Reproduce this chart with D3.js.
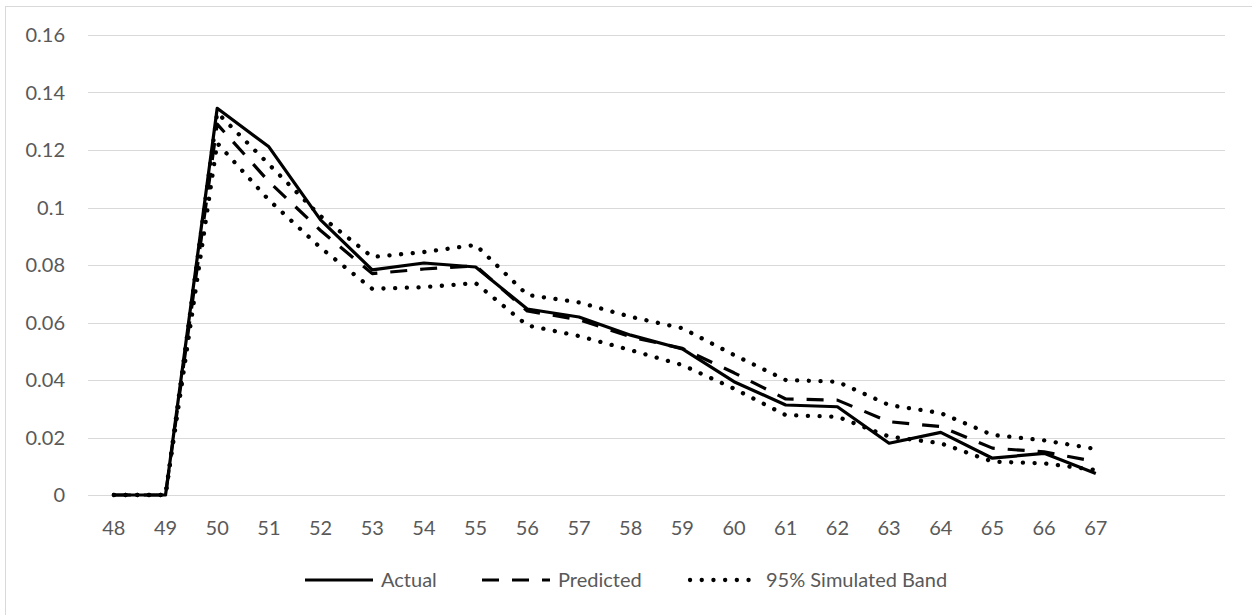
<!DOCTYPE html>
<html lang="en">

<head>
    <meta charset="UTF-8">
    <title>Actual vs Predicted</title>
    <script src="https://cdn.jsdelivr.net/npm/d3@7"></script>

    <style>
        body { margin: 0; background: #fff; }
        svg { display: block; }
        .grid line { stroke: #d9d9d9; stroke-width: 1; }
        .tick-label, .legend text {
            font-family: Lato, "Open Sans", sans-serif;
            font-size: 20px;
            fill: #595959;
        }
    </style>
</head>

<body>

    <svg width="1252" height="615"></svg>

    <script>

        // data (two trailing empty categories in the source sheet)
        var ages = ["48", "49", "50", "51", "52", "53", "54", "55", "56", "57",
                    "58", "59", "60", "61", "62", "63", "64", "65", "66", "67", "", ""];

        var actual    = [0, 0, 0.1345, 0.1211, 0.0957, 0.0783, 0.0807, 0.0793, 0.0647, 0.0619,
                         0.0556, 0.0508, 0.0394, 0.0313, 0.0307, 0.0180, 0.0218, 0.0128, 0.0145, 0.0075];
        var predicted = [0, 0, 0.1290, 0.1090, 0.0920, 0.0770, 0.0786, 0.0797, 0.0640, 0.0610,
                         0.0550, 0.0510, 0.0425, 0.0334, 0.0330, 0.0255, 0.0238, 0.0163, 0.0150, 0.0116];
        var bandUpper = [0, 0, 0.1330, 0.1150, 0.0970, 0.0828, 0.0845, 0.0870, 0.0696, 0.0670,
                         0.0620, 0.0580, 0.0487, 0.0400, 0.0394, 0.0313, 0.0285, 0.0209, 0.0190, 0.0160];
        var bandLower = [0, 0, 0.1224, 0.1026, 0.0860, 0.0717, 0.0723, 0.0737, 0.0590, 0.0553,
                         0.0504, 0.0452, 0.0370, 0.0278, 0.0272, 0.0203, 0.0180, 0.0116, 0.0110, 0.0087];

        var yTicks = [0, 0.02, 0.04, 0.06, 0.08, 0.1, 0.12, 0.14, 0.16];

        var svg = d3.select("svg");

        var plot = { left: 88, right: 1225, top: 35, bottom: 495 };

        // chart frame
        svg.append("rect")
            .attr("x", 5.5).attr("y", 6.5)
            .attr("width", 1300).attr("height", 700)
            .attr("fill", "none")
            .attr("stroke", "#d9d9d9")
            .attr("stroke-width", 1);

        var x = d3.scaleBand()
            .domain(d3.range(ages.length))
            .range([plot.left, plot.right]);

        var y = d3.scaleLinear()
            .domain([0, 0.16])
            .range([plot.bottom, plot.top]);

        var xc = function(i) { return x(i) + x.bandwidth() / 2; };

        // gridlines
        svg.append("g")
            .attr("class", "grid")
            .selectAll("line")
            .data(yTicks)
            .enter().append("line")
            .attr("x1", plot.left)
            .attr("x2", plot.right)
            .attr("y1", function(d) { return Math.round(y(d)) + 0.5; })
            .attr("y2", function(d) { return Math.round(y(d)) + 0.5; });

        // y labels
        svg.append("g")
            .selectAll("text")
            .data(yTicks)
            .enter().append("text")
            .attr("class", "tick-label")
            .attr("x", 65)
            .attr("y", function(d) { return y(d) + 7; })
            .attr("text-anchor", "end")
            .text(function(d) { return d3.format("")(+d.toFixed(2)); });

        // x labels
        svg.append("g")
            .selectAll("text")
            .data(ages)
            .enter().append("text")
            .attr("class", "tick-label")
            .attr("x", function(d, i) { return xc(i); })
            .attr("y", 535)
            .attr("text-anchor", "middle")
            .text(function(d) { return d; });

        var line = d3.line()
            .x(function(d, i) { return xc(i); })
            .y(function(d) { return y(d); });

        var styles = {
            actual:    { width: 3.2, dash: null,       cap: "butt" },
            predicted: { width: 3.2, dash: "17,13",    cap: "butt" },
            band:      { width: 4.3, dash: "0.1,11.6", cap: "round" }
        };

        function drawSeries(values, s) {
            svg.append("path")
                .datum(values)
                .attr("d", line)
                .attr("fill", "none")
                .attr("stroke", "#000")
                .attr("stroke-width", s.width)
                .attr("stroke-linejoin", "round")
                .attr("stroke-linecap", s.cap)
                .attr("stroke-dasharray", s.dash);
        }

        drawSeries(bandUpper, styles.band);
        drawSeries(bandLower, styles.band);
        drawSeries(predicted, styles.predicted);
        drawSeries(actual, styles.actual);

        // legend
        var legendItems = [
            { label: "Actual", x: 305, s: styles.actual },
            { label: "Predicted", x: 482, s: styles.predicted },
            { label: "95% Simulated Band", x: 690, s: styles.band }
        ];

        var legend = svg.append("g").attr("class", "legend");

        legendItems.forEach(function(it) {
            legend.append("line")
                .attr("x1", it.x).attr("x2", it.x + 68)
                .attr("y1", 580).attr("y2", 580)
                .attr("stroke", "#000")
                .attr("stroke-width", it.s.width)
                .attr("stroke-linecap", it.s.cap)
                .attr("stroke-dasharray", it.s.dash);
            legend.append("text")
                .attr("x", it.x + 76)
                .attr("y", 587)
                .text(it.label);
        });
    </script>

</body>

</html>
